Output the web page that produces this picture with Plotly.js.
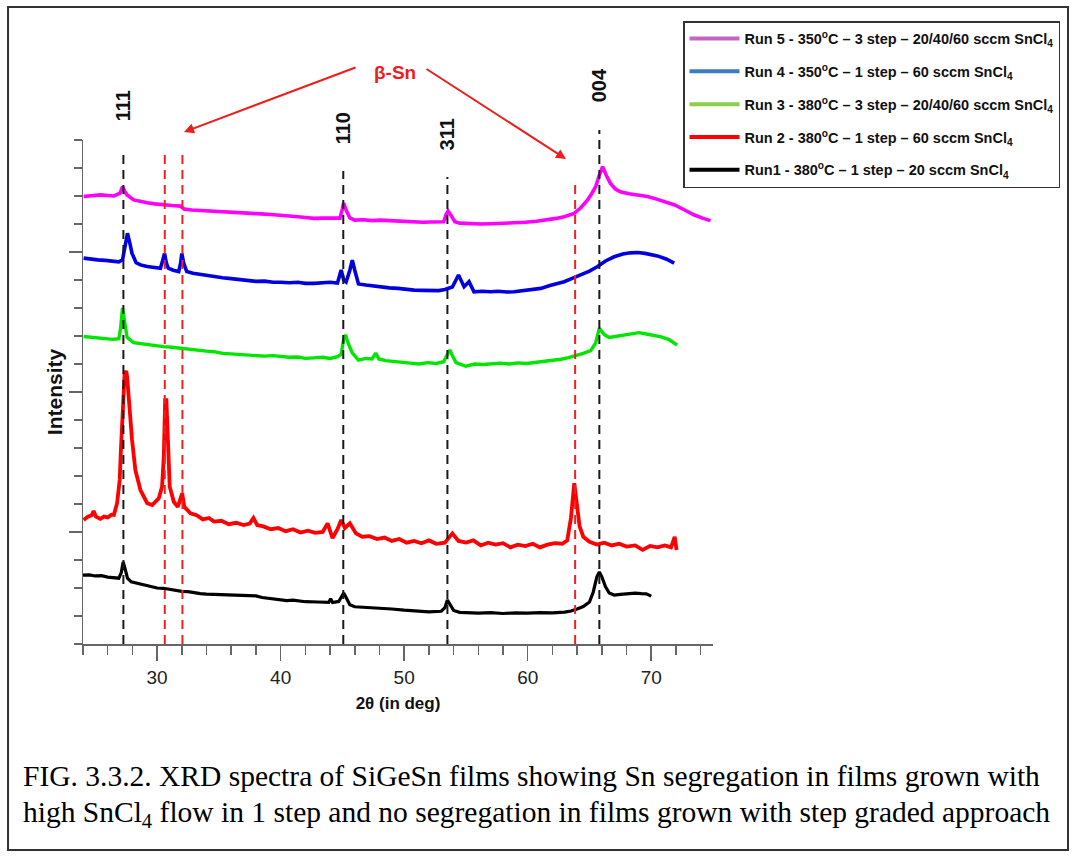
<!DOCTYPE html>
<html>
<head>
<meta charset="utf-8">
<script src="https://cdn.plot.ly/plotly-3.0.1.min.js"></script>
<style>html,body{margin:0;padding:0;background:#fff;}#chart{width:1075px;height:858px;}</style>
</head>
<body>
<div id="chart"></div>
<script>
// ---- Data (2θ in degrees, intensity in arbitrary offset units) ----
const run1_x = [24.0,24.5,25.0,25.5,26.0,26.5,26.9,27.1,27.25,27.4,27.6,27.9,28.5,29.0,29.5,30.0,30.5,31.0,31.5,32.0,32.5,33.0,33.5,34.0,35.0,36.0,37.0,38.0,38.5,39.0,40.0,40.5,41.0,41.5,42.0,43.0,43.9,44.05,44.2,44.7,44.95,45.1,45.3,45.6,46.0,47.0,48.0,49.0,50.0,51.0,52.0,53.0,53.3,53.5,53.7,54.0,54.5,55.0,56.0,57.0,58.0,59.0,60.0,61.0,62.0,63.0,63.5,64.0,64.5,65.0,65.3,65.6,65.8,66.0,66.3,66.6,67.0,67.5,68.0,68.7,69.2,69.6,70.0];
const run1_y = [2.46,2.47,2.43,2.44,2.39,2.37,2.35,2.55,2.93,2.70,2.35,2.22,2.16,2.10,2.06,2.00,1.99,1.95,1.93,1.88,1.87,1.83,1.80,1.78,1.76,1.75,1.73,1.72,1.66,1.63,1.57,1.55,1.57,1.53,1.51,1.50,1.49,1.62,1.48,1.52,1.68,1.82,1.66,1.40,1.33,1.31,1.29,1.25,1.21,1.17,1.15,1.17,1.30,1.57,1.40,1.20,1.13,1.12,1.10,1.12,1.09,1.11,1.10,1.12,1.11,1.14,1.18,1.25,1.34,1.50,1.85,2.40,2.57,2.40,2.04,1.82,1.75,1.77,1.79,1.82,1.80,1.79,1.71];

const run2_x = [24.05,24.4,24.7,24.86,25.05,25.4,25.7,26.0,26.3,26.5,26.76,26.97,27.08,27.24,27.37,27.5,27.57,27.76,27.97,28.24,28.65,29.2,29.6,30.13,30.4,30.54,30.65,30.75,30.86,31.02,31.35,31.67,32.03,32.2,32.7,33.2,33.7,34.2,34.6,35.2,35.8,36.4,37.0,37.5,37.8,38.1,38.6,39.2,39.8,40.4,41.0,41.6,42.2,42.8,43.4,43.8,44.2,44.6,44.9,45.2,45.6,46.1,46.6,47.2,47.8,48.4,49.0,49.6,50.2,50.8,51.4,52.0,52.6,53.3,53.9,54.4,55.0,55.6,56.2,56.8,57.4,58.0,58.6,59.2,59.8,60.4,61.0,61.6,62.2,62.8,63.2,63.5,63.77,64.0,64.2,64.5,65.0,65.6,66.2,66.8,67.4,68.0,68.7,69.3,69.9,70.5,71.1,71.6,71.9,72.05];
const run2_y = [4.43,4.55,4.60,4.75,4.55,4.47,4.55,4.52,4.62,4.61,5.03,5.86,7.05,8.83,9.67,9.75,9.55,8.48,7.29,6.21,5.50,5.03,4.96,5.20,5.62,6.69,8.71,8.71,7.29,5.62,5.08,4.90,5.38,4.90,4.67,4.60,4.45,4.50,4.37,4.40,4.28,4.33,4.25,4.30,4.50,4.25,4.20,4.10,4.14,4.03,4.10,3.98,4.05,3.97,4.00,4.31,3.78,4.10,4.43,4.14,4.31,3.95,3.83,3.85,3.75,3.80,3.68,3.75,3.62,3.68,3.60,3.70,3.58,3.62,3.95,3.68,3.62,3.70,3.52,3.62,3.55,3.60,3.45,3.55,3.50,3.58,3.45,3.55,3.60,3.58,3.70,4.50,5.74,5.00,4.20,3.83,3.65,3.55,3.62,3.52,3.58,3.48,3.52,3.36,3.50,3.45,3.52,3.45,3.83,3.36];

const run3_x = [24.05,24.6,25.2,25.8,26.4,26.9,27.05,27.2,27.35,27.57,28.1,28.7,29.2,29.8,30.5,31.2,31.9,32.6,33.3,34.0,34.6,35.3,36.0,36.6,37.3,38.0,38.7,39.4,40.0,40.7,41.4,42.0,42.7,43.4,44.0,44.6,44.9,45.1,45.25,45.5,45.8,46.3,46.9,47.4,47.7,47.95,48.5,49.2,49.9,50.5,51.2,51.9,52.6,53.2,53.5,53.7,53.9,54.2,55.0,55.7,56.4,57.1,57.8,58.5,59.2,59.9,60.6,61.3,62.0,62.7,63.3,63.9,64.5,65.1,65.5,65.8,66.2,66.6,67.2,67.8,68.4,69.0,69.6,70.2,70.8,71.4,72.1];
const run3_y = [10.98,10.95,10.92,10.90,10.88,10.90,11.30,12.00,11.60,10.95,10.76,10.72,10.68,10.66,10.62,10.60,10.56,10.52,10.50,10.46,10.44,10.38,10.36,10.34,10.32,10.30,10.28,10.30,10.26,10.24,10.25,10.20,10.22,10.24,10.20,10.26,10.35,10.90,11.04,10.70,10.40,10.14,10.20,10.18,10.39,10.18,10.12,10.08,10.06,10.03,10.00,10.05,10.02,10.08,10.35,10.50,10.30,10.05,9.92,10.00,9.98,10.02,10.03,10.00,10.04,10.02,10.05,10.08,10.12,10.17,10.23,10.30,10.38,10.48,10.75,11.28,11.05,10.95,11.00,11.05,11.10,11.12,11.07,11.02,10.97,10.88,10.68];

const run4_x = [24.05,24.6,25.2,25.8,26.4,26.9,27.2,27.4,27.6,27.8,27.97,28.3,28.65,29.2,29.8,30.27,30.45,30.6,30.75,30.9,31.3,31.75,31.9,32.0,32.15,32.4,32.9,33.5,34.0,34.6,35.3,36.0,36.6,37.3,38.0,38.7,39.4,40.0,40.7,41.4,42.0,42.7,43.4,44.0,44.6,44.9,45.1,45.3,45.6,45.8,46.0,46.3,46.9,47.5,48.1,48.8,49.5,50.2,50.8,51.5,52.2,52.8,53.3,53.9,54.4,54.65,54.85,55.25,55.65,56.3,57.0,57.6,58.3,58.9,59.6,60.3,61.06,61.8,62.4,62.95,63.6,64.3,65.0,65.66,66.3,67.0,67.7,68.3,68.9,69.5,70.0,70.5,71.2,71.86];
const run4_y = [13.78,13.74,13.72,13.70,13.66,13.65,13.72,14.20,14.67,14.30,13.95,13.62,13.54,13.48,13.45,13.42,13.70,13.95,13.60,13.42,13.35,13.30,13.60,13.95,13.60,13.30,13.24,13.20,13.15,13.12,13.08,13.05,13.02,12.98,12.95,12.96,12.92,12.92,12.90,12.92,12.88,12.88,12.90,12.92,12.89,13.36,13.00,12.93,13.35,13.71,13.35,12.86,12.82,12.78,12.76,12.72,12.70,12.66,12.64,12.63,12.64,12.62,12.66,12.75,13.18,12.90,12.76,12.94,12.58,12.60,12.58,12.60,12.57,12.58,12.62,12.65,12.70,12.80,12.87,12.94,13.06,13.18,13.32,13.48,13.68,13.83,13.93,13.97,13.98,13.95,13.92,13.86,13.75,13.60];

const run5_x = [24.05,24.7,25.4,26.0,26.5,27.0,27.2,27.4,27.57,28.1,28.6,29.2,29.8,30.5,31.2,31.9,32.2,32.8,33.5,34.2,34.8,35.5,36.2,37.0,37.7,38.4,39.2,40.0,40.7,41.4,42.0,42.7,43.4,44.0,44.8,45.0,45.1,45.3,45.6,46.0,46.7,47.4,48.1,48.8,49.5,50.2,50.8,51.5,52.2,52.8,53.2,53.4,53.55,53.8,54.1,54.5,55.2,56.2,57.0,57.8,58.9,59.8,60.7,61.6,62.3,62.95,63.4,63.76,64.3,64.85,65.2,65.5,65.8,66.06,66.35,66.7,67.1,67.5,68.2,69.0,69.7,70.5,71.2,71.9,72.7,73.5,74.2,74.8];
const run5_y = [15.98,16.01,16.04,16.02,16.00,16.10,16.33,16.15,16.04,15.86,15.80,15.76,15.72,15.68,15.66,15.64,15.53,15.50,15.48,15.45,15.44,15.42,15.41,15.40,15.38,15.36,15.34,15.32,15.30,15.26,15.23,15.20,15.21,15.20,15.21,15.55,15.75,15.50,15.22,15.14,15.15,15.12,15.14,15.12,15.10,15.09,15.08,15.06,15.07,15.06,15.08,15.35,15.46,15.30,15.08,15.03,15.01,15.00,15.01,15.02,15.03,15.06,15.10,15.14,15.20,15.26,15.32,15.38,15.58,15.86,16.10,16.33,16.75,17.05,16.75,16.45,16.25,16.15,16.08,16.02,15.98,15.88,15.78,15.68,15.50,15.32,15.20,15.12];

const seriesNames = [
  "Run 5 - 350<sup>o</sup>C – 3 step – 20/40/60 sccm SnCl<sub>4</sub>",
  "Run 4 - 350<sup>o</sup>C – 1 step – 60 sccm SnCl<sub>4</sub>",
  "Run 3 - 380<sup>o</sup>C – 3 step – 20/40/60 sccm SnCl<sub>4</sub>",
  "Run 2 - 380<sup>o</sup>C – 1 step – 60 sccm SnCl<sub>4</sub>",
  "Run1 - 380<sup>o</sup>C – 1 step – 20 sccm SnCl<sub>4</sub>"
];
const traceColors = ["#ff00ff", "#0000e0", "#00e600", "#ff0000", "#000000"];
const legendColors = ["#c266c2", "#3a7dc4", "#8ccf4a", "#ff0000", "#000000"];

const ge_peaks = [27.27, 45.07, 53.5, 65.8];
const ge_labels = ["111", "110", "311", "004"];
const ge_line_tops = [0.980, 0.9385, 0.9266, 1.0198];
const ge_label_y = [1.0675, 1.0238, 1.0119, 1.1091];
const sn_peaks = [30.62, 32.05, 63.84];
const sn_line_tops = [0.980, 0.980, 0.9167];

const xTickLabels = ["30", "40", "50", "60", "70"];

// ---- Traces ----
const runsX = [run5_x, run4_x, run3_x, run2_x, run1_x];
const runsY = [run5_y, run4_y, run3_y, run2_y, run1_y];
const traceWidths = [3.6, 3.6, 3.4, 3.8, 3.2];
const traces = [];
for (let i = runsX.length - 1; i >= 0; i--) {
  traces.push({
    x: runsX[i], y: runsY[i], type: 'scatter', mode: 'lines',
    line: {color: traceColors[i], width: traceWidths[i]}, showlegend: false, hoverinfo: 'skip'
  });
}
for (let i = 0; i < seriesNames.length; i++) {
  traces.push({
    x: [null], y: [null], type: 'scatter', mode: 'lines', name: seriesNames[i],
    legendgroup: 'g' + i, line: {color: legendColors[i], width: 4}, showlegend: true
  });
}

const SANS = '"Liberation Sans", Arial, sans-serif';

const shapes = [];
ge_peaks.forEach((p, i) => shapes.push({type: 'line', xref: 'x', yref: 'paper', x0: p, x1: p, y0: 0, y1: ge_line_tops[i], line: {color: '#1a1a1a', width: 2, dash: '9px,6px'}}));
sn_peaks.forEach((p, i) => shapes.push({type: 'line', xref: 'x', yref: 'paper', x0: p, x1: p, y0: 0, y1: sn_line_tops[i], line: {color: '#ee2222', width: 2, dash: '9px,6px'}}));
// outer frame
shapes.push({type: 'rect', xref: 'paper', yref: 'paper', x0: -0.119, x1: 1.5635, y0: -0.4087, y1: 1.2639, line: {color: '#333', width: 2}});

const annotations = [];
ge_peaks.forEach((p, i) => annotations.push({
  x: p, xref: 'x', y: ge_label_y[i], yref: 'paper', text: '<b>' + ge_labels[i] + '</b>', textangle: -90,
  showarrow: false, font: {family: SANS, size: 20, color: '#111'}, xanchor: 'center', yanchor: 'middle'
}));
annotations.push({x: 0.4952, xref: 'paper', y: 1.1587, yref: 'paper', text: '<b>β-Sn</b>', showarrow: false,
  font: {family: SANS, size: 19, color: '#ee1c1c'}});
annotations.push({x: 0.1603, y: 1.0159, xref: 'paper', yref: 'paper', ax: 173, ay: -65, text: '',
  showarrow: true, arrowhead: 2, arrowsize: 1, arrowwidth: 2, arrowcolor: '#ee1c1c'});
annotations.push({x: 0.7667, y: 0.9623, xref: 'paper', yref: 'paper', ax: -141, ay: -91, text: '',
  showarrow: true, arrowhead: 2, arrowsize: 1, arrowwidth: 2, arrowcolor: '#ee1c1c'});
annotations.push({x: -0.0984, xref: 'paper', y: -0.2619, yref: 'paper', xanchor: 'left', yanchor: 'middle', showarrow: false,
  text: 'FIG. 3.3.2. XRD spectra of SiGeSn films showing Sn segregation in films grown with',
  font: {family: '"Liberation Serif", "Times New Roman", serif', size: 29.5, color: '#000'}});
annotations.push({x: -0.0984, xref: 'paper', y: -0.3373, yref: 'paper', xanchor: 'left', yanchor: 'middle', showarrow: false,
  text: 'high SnCl<sub>4</sub> flow in 1 step and no segregation in films grown with step graded approach',
  font: {family: '"Liberation Serif", "Times New Roman", serif', size: 29.5, color: '#000'}});

const layout = {
  width: 1075, height: 858,
  margin: {l: 83, r: 362, t: 140, b: 214, autoexpand: false},
  paper_bgcolor: '#fff', plot_bgcolor: '#fff',
  showlegend: true,
  legend: {x: 0.9524, y: 1.2361, xanchor: 'left', yanchor: 'top', bgcolor: '#fff', bordercolor: '#333', borderwidth: 1.5,
    font: {family: SANS, size: 14.5, color: '#111', weight: 'bold'}, itemwidth: 50, tracegroupgap: 11, traceorder: 'grouped'},
  xaxis: {
    range: [24, 75], showgrid: false, zeroline: false, showline: true, linecolor: '#666', linewidth: 1.5,
    ticks: 'outside', ticklen: 15, tickwidth: 1.5, tickcolor: '#666', tickmode: 'array', tickvals: [30, 40, 50, 60, 70], ticktext: xTickLabels,
    ticklabelstandoff: 1,
    minor: {dtick: 2, tick0: 24, ticks: 'outside', ticklen: 9, tickwidth: 1.5, tickcolor: '#666', showgrid: false},
    tickfont: {family: SANS, size: 19, color: '#222'},
    title: {text: '<b>2θ (in deg)</b>', font: {family: SANS, size: 17, color: '#111'}, standoff: 10}
  },
  yaxis: {
    range: [0, 18], showgrid: false, zeroline: false, showline: true, linecolor: '#666', linewidth: 1.5,
    ticks: 'outside', ticklen: 13, tickwidth: 1.5, tickcolor: '#666', tickmode: 'linear', tick0: 4, dtick: 5, showticklabels: false,
    minor: {dtick: 1, tick0: 0, ticks: 'outside', ticklen: 8, tickwidth: 1.5, tickcolor: '#666', showgrid: false},
    title: {text: '<b>Intensity</b>', font: {family: SANS, size: 21, color: '#111'}, standoff: 0}
  },
  shapes: shapes,
  annotations: annotations
};

Plotly.newPlot('chart', traces, layout, {displayModeBar: false, staticPlot: true});
</script>
</body>
</html>
